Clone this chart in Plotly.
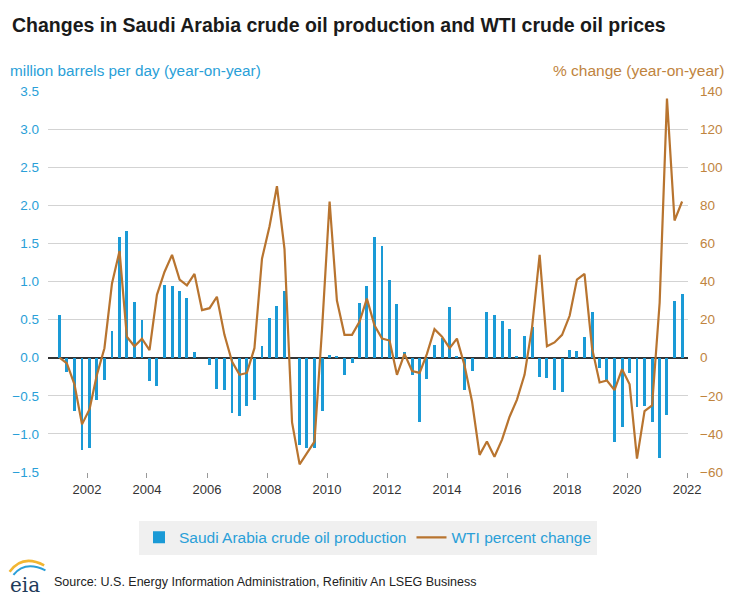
import pandas as pd
import plotly.graph_objects as go

# quarterly, 2001Q1 .. 2021Q4
quarters = pd.period_range("2001Q1", "2021Q4", freq="Q")

# Saudi Arabia crude oil production, change year-on-year (million b/d)
saudi_change = [
    0.56, -0.19, -0.70, -1.21,
    -1.18, -0.55, -0.29, 0.35,
    1.58, 1.66, 0.73, 0.49,
    -0.31, -0.37, 0.96, 0.94,
    0.88, 0.78, 0.07, 0.00,
    -0.10, -0.41, -0.42, -0.73,
    -0.77, -0.63, -0.55, 0.15,
    0.52, 0.68, 0.87, 0.00,
    -1.14, -1.19, -1.18, -0.70,
    0.04, 0.01, -0.23, -0.07,
    0.72, 0.94, 1.58, 1.46,
    1.02, 0.70, 0.07, -0.23,
    -0.84, -0.28, 0.17, 0.26,
    0.66, 0.02, -0.42, -0.18,
    0.00, 0.60, 0.56, 0.48,
    0.38, 0.02, 0.28, 0.40,
    -0.25, -0.26, -0.43, -0.45,
    0.10, 0.09, 0.27, 0.60,
    -0.13, -0.29, -1.11, -0.91,
    -0.20, -0.65, -0.63, -0.84,
    -1.32, -0.75, 0.75, 0.83,
]

# WTI crude oil price, percent change year-on-year
wti_change = [
    0, -3, -14, -35,
    -27, -9, 5, 39,
    56, 11, 6, 10,
    4, 33, 45, 54,
    41, 38, 44, 25,
    26, 32, 12, -2,
    -9, -8, 5, 52,
    69, 90, 57, -34,
    -56, -50, -44, 15,
    82, 30, 12, 12,
    19, 31, 17, 10,
    9, -9, 2, -7,
    -8, 2, 15, 11,
    5, 10, -4, -23,
    -51, -44, -52, -43,
    -31, -22, -9, 16,
    54, 6, 8, 12,
    22, 41, 44, 5,
    -13, -12, -17, -6,
    -14, -53, -28, -25,
    29, 136, 72, 82,
]

x = quarters.start_time + pd.DateOffset(months=1)

BLUE = "#1a9ad6"
ORANGE = "#b8742f"
TXT_BLUE = "#2a9fd8"
TXT_ORANGE = "#c0843e"
FONT = "Liberation Sans, Arial, sans-serif"

fig = go.Figure()
fig.add_trace(go.Bar(
    x=x, y=saudi_change, name="Saudi Arabia crude oil production",
    marker=dict(color=BLUE, line=dict(width=0)),
    width=36 * 86400000,
))
fig.add_trace(go.Scatter(
    x=x, y=wti_change, name="WTI percent change", yaxis="y2",
    mode="lines", line=dict(color=ORANGE, width=2.2),
))

# page has an 8px body margin, so the figure is a bit smaller than the window
fig.update_layout(
    width=727, height=592,
    margin=dict(l=40, r=47, t=83, b=128, autoexpand=False),
    paper_bgcolor="white", plot_bgcolor="white",
    font=dict(family=FONT, size=13, color="#333"),
    title=dict(
        text="<b>Changes in Saudi Arabia crude oil production and WTI crude oil prices</b>",
        x=0.0055, xanchor="left", y=0.971, yanchor="middle",
        font=dict(size=19.5, color="#1a1a1a"),
    ),
    showlegend=True,
    legend=dict(
        orientation="h", x=0.5, xanchor="center", y=-0.128, yanchor="top",
        bgcolor="#f0f0f0", font=dict(size=15.5, color=TXT_BLUE),
        itemwidth=30,
    ),
    xaxis=dict(
        type="date", range=["2000-09-13", "2022-01-12"],
        tick0="2002-01-01", dtick="M24", tickformat="%Y",
        showgrid=False, ticks="outside", ticklen=5, tickcolor="#999",
        showline=False, zeroline=False, automargin=False,
        tickfont=dict(size=13, color="#333"),
    ),
    yaxis=dict(
        range=[-1.5, 3.5], dtick=0.5, tickformat=".1f",
        showgrid=True, gridcolor="#d3d3d3", gridwidth=1,
        zeroline=True, zerolinecolor="#333", zerolinewidth=1.5,
        tickfont=dict(size=13.5, color=TXT_BLUE), ticklabelstandoff=8,
        automargin=False,
    ),
    yaxis2=dict(
        range=[-60, 140], dtick=20, overlaying="y", side="right",
        showgrid=False, zeroline=False, automargin=False,
        tickfont=dict(size=13.5, color=TXT_ORANGE), ticklabelstandoff=11,
    ),
    bargap=0,
)

fig.add_annotation(
    text="million barrels per day (year-on-year)", xref="paper", yref="paper",
    x=-0.0625, xanchor="left", y=1.0525, yanchor="middle", showarrow=False,
    font=dict(size=15.3, color=TXT_BLUE),
)
fig.add_annotation(
    text="% change (year-on-year)", xref="paper", yref="paper",
    x=1.059, xanchor="right", y=1.0525, yanchor="middle", showarrow=False,
    font=dict(size=15.5, color=TXT_ORANGE),
)
fig.add_annotation(
    text="Source: U.S. Energy Information Administration, Refinitiv An LSEG Business",
    xref="paper", yref="paper", x=0.00625, xanchor="left", y=-0.2887, yanchor="middle",
    showarrow=False, font=dict(size=12.5, color="#222"),
)
# eia logo
fig.add_annotation(
    text="eia", xref="paper", yref="paper", x=-0.0625, xanchor="left", y=-0.296,
    yanchor="middle", showarrow=False,
    font=dict(family="DejaVu Serif, Liberation Serif, serif", size=20, color="#1f3b5a"),
)
fig.add_shape(type="path", xref="paper", yref="paper",
              path="M -0.060,-0.262 Q -0.040,-0.215 -0.006,-0.245",
              line=dict(color="#f2b632", width=2.5))
fig.add_shape(type="path", xref="paper", yref="paper",
              path="M -0.054,-0.270 Q -0.036,-0.232 -0.004,-0.258",
              line=dict(color="#2a9fd8", width=2))

fig.write_html("out.html")
